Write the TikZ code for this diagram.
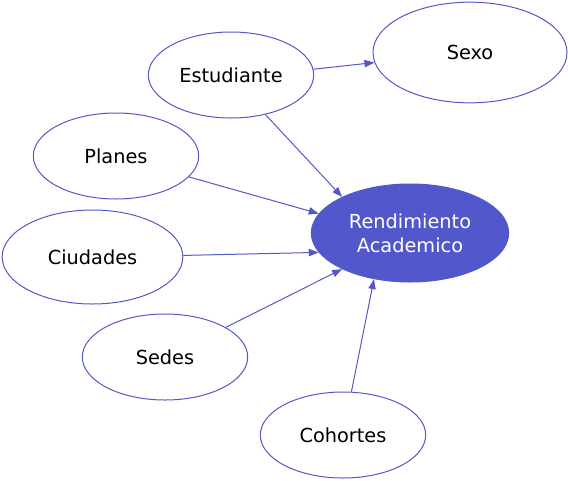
\documentclass[tikz,border=0pt]{standalone}
\usepackage{fontspec}
\setmainfont{DejaVu Sans}
\usetikzlibrary{shapes.geometric,arrows.meta}
\definecolor{edgeblue}{RGB}{82,88,200}
\definecolor{fillblue}{RGB}{82,88,204}

\begin{document}
\begin{tikzpicture}[x=0.75pt,y=-0.75pt]
\useasboundingbox (0,0) rectangle (568,480);
\begin{scope}[every node/.style={ellipse, draw=edgeblue, line width=0.75pt, inner sep=0pt, align=center, font=\fontsize{14.5}{18}\selectfont}]
 \node[minimum width=145.5pt, minimum height=75.5pt] (sexo) at (470,52.5) {Sexo};
 \node[minimum width=124pt, minimum height=64.5pt] (estudiante) at (231,75) {Estudiante};
 \node[minimum width=124pt, minimum height=64.5pt] (planes) at (116,156) {Planes};
 \node[minimum width=135.5pt, minimum height=70.5pt] (ciudades) at (92.5,257) {Ciudades};
 \node[minimum width=148pt, minimum height=73.5pt, fill=fillblue, text=white] (rendimiento) at (410,233) {Rendimiento\\Academico};
 \node[minimum width=124pt, minimum height=64.5pt] (sedes) at (165,357) {Sedes};
 \node[minimum width=124pt, minimum height=64.5pt] (cohortes) at (343,435) {Cohortes};
\end{scope}

\begin{scope}[edgeblue, line width=0.75pt, -{Triangle[length=7.5pt,width=5.5pt]}]
 \draw (estudiante.4.9) -- (sexo.-174.4);
 \draw (estudiante.-49.5) -- (rendimiento.152.8);
 \draw (planes.-16.8) -- (rendimiento.168.3);
 \draw (ciudades.1.3) -- (rendimiento.-168.3);
 \draw (sedes.26.6) -- (rendimiento.-152.8);
 \draw (cohortes.79.5) -- (rendimiento.-128.8);
\end{scope}
\end{tikzpicture}
\end{document}
